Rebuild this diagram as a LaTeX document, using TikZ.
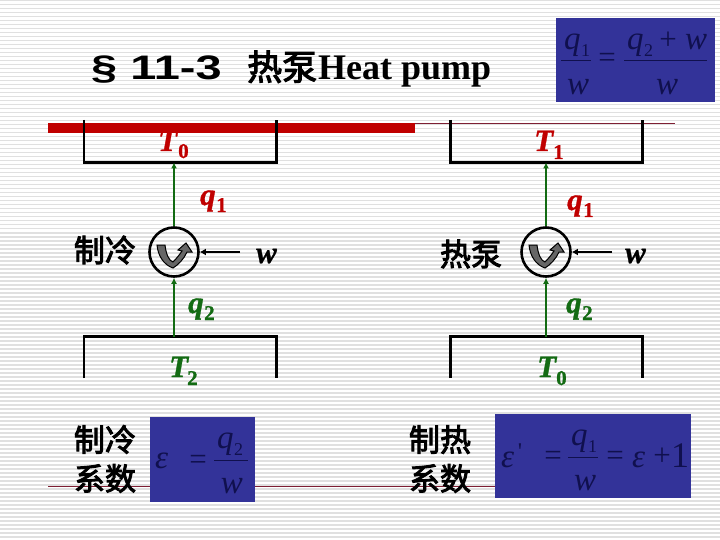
\documentclass[tikz,border=0pt]{standalone}
\usepackage{fontspec}
\setmainfont{Liberation Serif}
\newfontfamily\cjk{Noto Sans CJK SC}[FakeBold=3]
\newfontfamily\hv{Liberation Sans}[FakeStretch=1.38,BoldFont=Liberation Sans Bold]
\newfontfamily\symf{Liberation Serif}[FakeBold=1]
\usetikzlibrary{arrows.meta}
\definecolor{redc}{HTML}{C00000}
\definecolor{greenc}{HTML}{136B13}
\definecolor{bluebox}{HTML}{333399}
\definecolor{navy}{HTML}{10104E}
\definecolor{stripe}{HTML}{E0E0E0}
\definecolor{darkline}{HTML}{7E1F33}
\tikzset{
 res/.style={line width=2.4pt,draw=black,line cap=butt,line join=miter},
 flow/.style={line width=1.5pt,draw=greenc,-{Latex[length=6pt,width=6pt]}},
 work/.style={line width=2.2pt,draw=black,-{Latex[length=6pt,width=7pt]}},
 engine/.style={circle,draw=black,line width=2.6pt,minimum size=49pt,inner sep=0pt},
 thinred/.style={line width=.9pt,draw=darkline},
 sym/.style={font=\symf\bfseries\itshape\fontsize{31}{31}\selectfont,inner sep=0pt,anchor=base west},
 sub/.style={font=\symf\bfseries\fontsize{21}{21}\selectfont,inner sep=0pt,anchor=base west},
 cn/.style={font=\cjk\fontsize{31}{39}\selectfont,inner sep=0pt,align=center},
 bluerect/.style={fill=bluebox,draw=none},
 eq/.style={text=navy,inner sep=0pt,anchor=base,font=\itshape\fontsize{33}{33}\selectfont},
 eqr/.style={text=navy,inner sep=0pt,anchor=base,font=\fontsize{31}{31}\selectfont},
 eqs/.style={text=navy,inner sep=0pt,anchor=base,font=\fontsize{18}{18}\selectfont},
 bar/.style={line width=1pt,draw=navy}
}
\newcommand{\rotsign}[1]{%
 \begin{scope}[shift={(#1)}]
  \filldraw[draw=black,line width=1pt,fill=black!50!gray!80] (-17,-7) -- (-9,-7) .. controls (-8,2) and (-5,9) .. (-1,10) .. controls (3,6) and (6,2) .. (8,-1) -- (4,-2) -- (12,-9) -- (18,0) -- (13,0) .. controls (10,7) and (4,13) .. (-1,16) .. controls (-10,13) and (-16,4) .. (-17,-7) -- cycle;
 \end{scope}}
\begin{document}
\begin{tikzpicture}[x=1pt,y=-1pt]
\useasboundingbox (0,0) rectangle (720,540);
\fill[white] (0,0) rectangle (720,540);
\foreach \yy in {0,4,...,540}{\fill[stripe] (0,\yy) rectangle (720,\yy+1.5);}
% rules
\draw[thinred] (415,123.5) -- (675,123.5);
\draw[thinred] (48,486.5) -- (495,486.5);
\fill[redc] (48,123) rectangle (415,133);
% title
\node[anchor=base west,inner sep=0pt,font=\hv\bfseries\fontsize{34}{34}\selectfont] (sec) at (91,80) {§ 11-3};
\node[anchor=base west,inner sep=0pt,font=\cjk\fontsize{35}{35}\selectfont] (re) at (247,80) {热泵};
\node[anchor=base west,inner sep=0pt,font=\bfseries\fontsize{36}{36}\selectfont] (hp) at (318,80) {Heat pump};
% top equation
\fill[bluerect] (556,18) rectangle (715,102);
\node[eq,anchor=base west] (a1) at (564,50) {q};
\node[eqs,anchor=base west] (a1s) at (581,57) {1};
\draw[bar] (561,61) -- (591,61);
\node[eq] (a2) at (578,95) {w};
\node[eqr] (a3) at (607,68) {=};
\node[eq,anchor=base west] (a4) at (627,50) {q};
\node[eqs,anchor=base west] (a4s) at (644,57) {2};
\node[eqr] (a4p) at (668,50) {+};
\node[eq] (a4w) at (696,50) {w};
\draw[bar] (624,61) -- (707,61);
\node[eq] (a5) at (667,95) {w};
% left machine
\draw[res] (84,120) -- (84,162.5) -- (276.5,162.5) -- (276.5,120);
\node[sym,text=redc] (t0a) at (158,151) {T};
\node[sub,text=redc] (t0as) at (178,158) {0};
\node[engine] (e1) at (174,252) {};
\rotsign{174,252}
\draw[flow] (e1.north) -- (174,162.5);
\draw[res] (84,378) -- (84,336.5) -- (276.5,336.5) -- (276.5,378);
\coordinate (b1) at (174,337);
\draw[flow] (b1) -- (e1.south);
\coordinate (w1) at (240,252);
\draw[work] (w1) -- (e1.east);
\node[sym] (wl) at (256,263) {w};
\node[sym,text=redc] (q1l) at (200,205) {q};
\node[sub,text=redc] (q1ls) at (216,212) {1};
\node[sym,text=greenc] (q2l) at (188,313) {q};
\node[sub,text=greenc] (q2ls) at (204,320) {2};
\node[sym,text=greenc] (t2) at (169,377) {T};
\node[sub,text=greenc] (t2s) at (187,385) {2};
\node[cn] (c1) at (105,250) {制冷};
% right machine
\draw[res] (450.5,120) -- (450.5,162.5) -- (642.5,162.5) -- (642.5,120);
\node[sym,text=redc] (t1) at (534,151) {T};
\node[sub,text=redc] (t1s) at (553,159) {1};
\node[engine] (e2) at (546,252) {};
\rotsign{546,252}
\draw[flow] (e2.north) -- (546,162.5);
\draw[res] (450.5,378) -- (450.5,336.5) -- (642.5,336.5) -- (642.5,378);
\coordinate (b2) at (546,337);
\draw[flow] (b2) -- (e2.south);
\coordinate (w2) at (612,252);
\draw[work] (w2) -- (e2.east);
\node[sym] (wr) at (625,263) {w};
\node[sym,text=redc] (q1r) at (567,210) {q};
\node[sub,text=redc] (q1rs) at (583,217) {1};
\node[sym,text=greenc] (q2r) at (566,313) {q};
\node[sub,text=greenc] (q2rs) at (582,320) {2};
\node[sym,text=greenc] (t0b) at (537,377) {T};
\node[sub,text=greenc] (t0bs) at (556,385) {0};
\node[cn] (c2) at (471,254) {热泵};
% bottom left
\node[cn] (c3) at (105,459) {制冷\\系数};
\fill[bluerect] (150,417) rectangle (255,502);
\node[eq,anchor=base west] (b11) at (155,468) {ε};
\node[eqr] (b12) at (198,469) {=};
\node[eq,anchor=base west] (b13) at (217,448) {q};
\node[eqs,anchor=base west] (b13s) at (234,455) {2};
\draw[bar] (214,460) -- (248,460);
\node[eq] (b14) at (232,493) {w};
% bottom right
\node[cn] (c4) at (440,459) {制热\\系数};
\fill[bluerect] (495,414) rectangle (691,498);
\node[eq,anchor=base west] (b21) at (501,467) {ε};
\node[eqs,font=\fontsize{24}{24}\selectfont] (b22) at (520,459) {\textquotesingle};
\node[eqr] (b23) at (553,465) {=};
\node[eq,anchor=base west] (b24) at (571,445) {q};
\node[eqs,anchor=base west] (b24s) at (588,452) {1};
\draw[bar] (568,457) -- (598,457);
\node[eq] (b25) at (585,490) {w};
\node[eqr] (b26) at (615,465) {=};
\node[eq,anchor=base west] (b27) at (632,467) {ε};
\node[eqr] (b28) at (662,465) {+};
\node[eqr,font=\fontsize{36}{36}\selectfont] (b29) at (680,467) {1};
\end{tikzpicture}
\end{document}
